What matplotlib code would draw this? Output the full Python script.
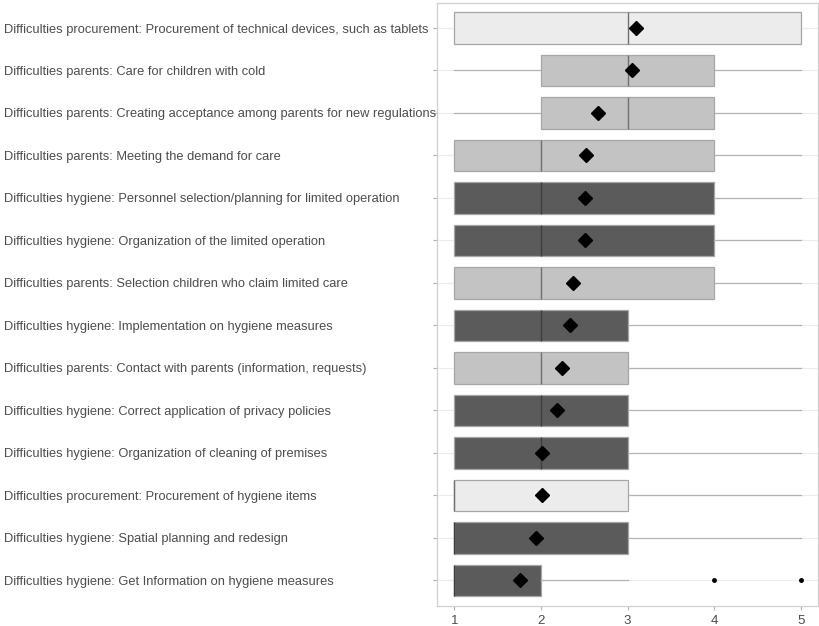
import numpy as np
import matplotlib.pyplot as plt
from matplotlib.transforms import blended_transform_factory

plt.rcParams['font.family'] = ['Liberation Sans', 'DejaVu Sans']

# rows from top to bottom
labels = [
    "Difficulties procurement: Procurement of technical devices, such as tablets",
    "Difficulties parents: Care for children with cold",
    "Difficulties parents: Creating acceptance among parents for new regulations",
    "Difficulties parents: Meeting the demand for care",
    "Difficulties hygiene: Personnel selection/planning for limited operation",
    "Difficulties hygiene: Organization of the limited operation",
    "Difficulties parents: Selection children who claim limited care",
    "Difficulties hygiene: Implementation on hygiene measures",
    "Difficulties parents: Contact with parents (information, requests)",
    "Difficulties hygiene: Correct application of privacy policies",
    "Difficulties hygiene: Organization of cleaning of premises",
    "Difficulties procurement: Procurement of hygiene items",
    "Difficulties hygiene: Spatial planning and redesign",
    "Difficulties hygiene: Get Information on hygiene measures",
]
groups = ["procurement", "parents", "parents", "parents", "hygiene", "hygiene", "parents",
          "hygiene", "parents", "hygiene", "hygiene", "procurement", "hygiene", "hygiene"]
whislo = [1, 1, 1, 1, 1, 1, 1, 1, 1, 1, 1, 1, 1, 1]
q1 = [1, 2, 2, 1, 1, 1, 1, 1, 1, 1, 1, 1, 1, 1]
med = [3, 3, 3, 2, 2, 2, 2, 2, 2, 2, 2, 1, 1, 1]
q3 = [5, 4, 4, 4, 4, 4, 4, 3, 3, 3, 3, 3, 3, 2]
whishi = [5, 5, 5, 5, 5, 5, 5, 5, 5, 5, 5, 5, 5, 3]
means = [3.10, 3.05, 2.66, 2.52, 2.51, 2.51, 2.37, 2.33, 2.24, 2.19, 2.01, 2.01, 1.94, 1.76]
fliers = [[], [], [], [], [], [], [], [], [], [], [], [], [], [4, 5]]

fills = {"procurement": "#ececec", "parents": "#c3c3c3", "hygiene": "#5b5b5b"}
med_colors = {"procurement": "#707070", "parents": "#707070", "hygiene": "#3e3e3e"}

n = len(labels)
pos = np.arange(n, 0, -1)

stats = []
for i in range(n):
    stats.append(dict(label=labels[i], whislo=whislo[i], q1=q1[i], med=med[i],
                      q3=q3[i], whishi=whishi[i], mean=means[i], fliers=fliers[i]))

fig = plt.figure(figsize=(8.19, 6.26), dpi=100)
ax = fig.add_axes([0.5336, 0.032, 0.4652, 0.964])

for y in pos:
    ax.axhline(y, color='#ececec', lw=0.8, zorder=0)

bp = ax.bxp(stats, positions=pos, vert=False, widths=0.75, patch_artist=True,
            showmeans=True, showcaps=False,
            boxprops=dict(edgecolor='#a6a6a6', linewidth=0.9),
            whiskerprops=dict(color='#b3b3b3', linewidth=0.9),
            medianprops=dict(color='#6e6e6e', linewidth=1.0),
            meanprops=dict(marker='D', markerfacecolor='black', markeredgecolor='black',
                           markersize=7.5),
            flierprops=dict(marker='o', markerfacecolor='black', markeredgecolor='black',
                            markersize=2.5))
for patch, line, g in zip(bp['boxes'], bp['medians'], groups):
    patch.set_facecolor(fills[g])
    line.set_color(med_colors[g])

ax.set_xlim(0.8, 5.2)
ax.set_ylim(0.4, n + 0.6)
ax.set_xticks([1, 2, 3, 4, 5])
ax.set_yticks(pos)
ax.set_yticklabels([])
ax.tick_params(axis='both', colors='#b3b3b3', length=3, width=0.8, labelsize=9.5,
               labelcolor='#4d4d4d')
for s in ax.spines.values():
    s.set_color('#d0d0d0')
    s.set_linewidth(0.9)

# left-aligned category labels
trans = blended_transform_factory(fig.transFigure, ax.transData)
for y, lab in zip(pos, labels):
    fig.text(0.005, y, lab, transform=trans, ha='left', va='center_baseline',
             fontsize=9.3, color='#4d4d4d')

fig.savefig("out.png", dpi=100)
